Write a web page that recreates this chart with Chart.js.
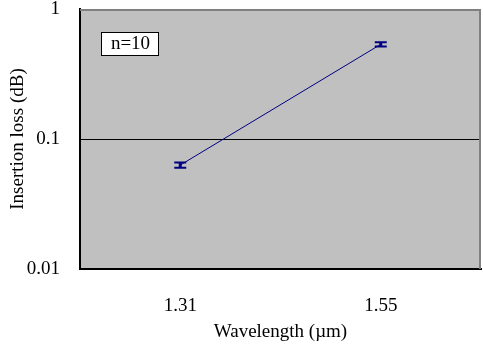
<!DOCTYPE html>
<html>
<head>
<meta charset="utf-8">
<script src="https://cdn.jsdelivr.net/npm/chart.js@4/dist/chart.umd.min.js"></script>
<style>
  html, body { margin: 0; padding: 0; background: #fff; }
  #wrap { width: 483px; height: 345px; }
</style>
</head>
<body>
<div id="wrap"><canvas id="c" width="483" height="345"></canvas></div>
<script>
// data
const wavelengths = ['1.31', '1.55'];
const insertionLoss = [0.063, 0.535];
const errLow = [0.003, 0.02];
const errHigh = [0.003, 0.02];
const yTicks = [0.01, 0.1, 1];
const yTickLabels = { 0.01: '0.01', 0.1: '0.1', 1: '1' };
const noteText = 'n=10';

const SERIF = '"Liberation Serif", "Times New Roman", serif';
const NAVY = '#000080';

// gray plot background + top/right edges + the n=10 box
const plotFrame = {
    id: 'plotFrame',
    beforeDatasetsDraw(chart) {
        const { ctx, chartArea: a } = chart;
        ctx.save();
        ctx.strokeStyle = '#808080';
        ctx.lineWidth = 2;
        ctx.beginPath();
        ctx.moveTo(a.left, a.top + 1);
        ctx.lineTo(a.right - 1, a.top + 1);
        ctx.lineTo(a.right - 1, a.bottom);
        ctx.stroke();
        ctx.restore();
    },
    beforeDraw(chart) {
        const { ctx, chartArea: a } = chart;
        ctx.save();
        ctx.fillStyle = '#c0c0c0';
        ctx.fillRect(a.left, a.top, a.right - a.left, a.bottom - a.top);
        ctx.restore();
    },
    afterDraw(chart) {
        const { ctx, chartArea: a } = chart;
        ctx.save();
        const x = a.left + 21, y = a.top + 23, w = 57, h = 23;
        ctx.fillStyle = '#fff';
        ctx.fillRect(x, y, w, h);
        ctx.strokeStyle = '#000';
        ctx.lineWidth = 1;
        ctx.strokeRect(x + 0.5, y + 0.5, w, h);
        ctx.fillStyle = '#000';
        ctx.font = '19px ' + SERIF;
        ctx.textAlign = 'center';
        ctx.textBaseline = 'middle';
        ctx.fillText(noteText, x + w / 2 + 1, y + h / 2 + 1);
        ctx.restore();
    }
};

// error bars with caps
const errorBars = {
    id: 'errorBars',
    afterDatasetsDraw(chart) {
        const { ctx, scales } = chart;
        const meta = chart.getDatasetMeta(0);
        ctx.save();
        ctx.strokeStyle = NAVY;
        meta.data.forEach((pt, i) => {
            const v = insertionLoss[i];
            const yTop = scales.y.getPixelForValue(v + errHigh[i]);
            const yBot = scales.y.getPixelForValue(v - errLow[i]);
            ctx.lineWidth = 3;
            ctx.beginPath();
            ctx.moveTo(pt.x, yTop);
            ctx.lineTo(pt.x, yBot);
            ctx.stroke();
            ctx.lineWidth = 2;
            ctx.beginPath();
            ctx.moveTo(pt.x - 6, yTop);
            ctx.lineTo(pt.x + 6, yTop);
            ctx.moveTo(pt.x - 6, yBot);
            ctx.lineTo(pt.x + 6, yBot);
            ctx.stroke();
        });
        ctx.restore();
    }
};

function noPad(s) {
    s.paddingTop = 0;
    s.paddingBottom = 0;
    s.paddingLeft = 0;
    s.paddingRight = 0;
}

new Chart(document.getElementById('c'), {
    type: 'line',
    data: {
        labels: wavelengths,
        datasets: [{
            data: insertionLoss,
            borderColor: NAVY,
            borderWidth: 1,
            pointRadius: 0,
            tension: 0
        }]
    },
    options: {
        responsive: false,
        animation: false,
        layout: { padding: { top: 9, right: 2, left: 0, bottom: 0 } },
        plugins: { legend: { display: false }, tooltip: { enabled: false } },
        scales: {
            x: {
                type: 'category',
                offset: true,
                grid: { display: false, drawTicks: false },
                border: { color: '#000', width: 2 },
                ticks: { color: '#000', font: { family: SERIF, size: 19 }, padding: 26 },
                title: {
                    display: true,
                    text: 'Wavelength (\u00b5m)',
                    color: '#000',
                    font: { family: SERIF, size: 19 },
                    padding: { top: 0, bottom: 2 }
                },
                afterFit(s) { s.height = 76; noPad(s); }
            },
            y: {
                type: 'logarithmic',
                min: 0.01,
                max: 1,
                afterBuildTicks(s) { s.ticks = yTicks.map(v => ({ value: v })); },
                grid: {
                    drawTicks: false,
                    color: c => (c.tick && c.tick.value === 0.1 ? '#000' : 'rgba(0,0,0,0)'),
                    lineWidth: 1
                },
                border: { color: '#000', width: 2 },
                ticks: {
                    color: '#000',
                    font: { family: SERIF, size: 19 },
                    padding: 20,
                    callback: v => yTickLabels[v] || ''
                },
                title: {
                    display: true,
                    text: 'Insertion loss (dB)',
                    color: '#000',
                    font: { family: SERIF, size: 19 },
                    padding: { top: 7, bottom: 0 }
                },
                afterFit(s) { s.width = 80; noPad(s); }
            }
        }
    },
    plugins: [plotFrame, errorBars]
});
</script>
</body>
</html>
